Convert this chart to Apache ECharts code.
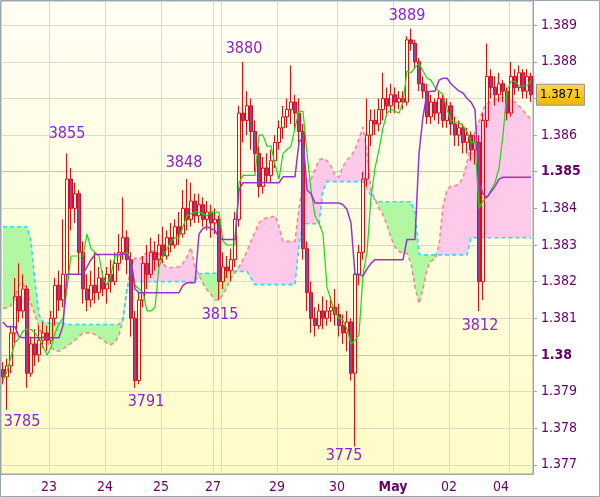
<!DOCTYPE html>
<html><head><meta charset="utf-8">
<script src="https://cdn.jsdelivr.net/npm/echarts@6/dist/echarts.min.js"></script>
<style>html,body{margin:0;padding:0;background:#fff}#c{width:600px;height:497px}</style>
</head><body><div id="c"></div>
<script>
// Hourly-ish candles: [open, close, low, high]
const candleOCLH = [
[1.3796,1.3794,1.3792,1.3798],[1.3794,1.3797,1.3785,1.3799],[1.3797,1.3806,1.3795,1.3808],[1.3806,1.3816,1.3803,1.3821],[1.3816,1.3812,1.3809,1.3825],
[1.3812,1.3818,1.3810,1.3822],[1.3818,1.3795,1.3791,1.3819],[1.3795,1.3803,1.3794,1.3805],[1.3803,1.3800,1.3797,1.3807],[1.3800,1.3804,1.3798,1.3808],
[1.3804,1.3806,1.3802,1.3809],[1.3806,1.3804,1.3801,1.3808],[1.3804,1.3810,1.3803,1.3812],[1.3810,1.3819,1.3808,1.3821],[1.3819,1.3815,1.3812,1.3823],
[1.3815,1.3822,1.3813,1.3837],[1.3822,1.3848,1.3821,1.3855],[1.3848,1.3840,1.3834,1.3851],[1.3840,1.3844,1.3836,1.3847],[1.3844,1.3828,1.3822,1.3845],
[1.3828,1.3818,1.3814,1.3831],[1.3818,1.3815,1.3812,1.3822],[1.3815,1.3819,1.3813,1.3823],[1.3819,1.3817,1.3814,1.3828],[1.3817,1.3821,1.3815,1.3824],
[1.3821,1.3818,1.3816,1.3823],[1.3818,1.3822,1.3814,1.3824],[1.3822,1.3820,1.3817,1.3826],[1.3820,1.3825,1.3819,1.3828],[1.3825,1.3828,1.3823,1.3833],
[1.3828,1.3832,1.3826,1.3843],[1.3832,1.3826,1.3822,1.3834],[1.3826,1.3810,1.3805,1.3828],[1.3810,1.3793,1.3791,1.3812],[1.3793,1.3815,1.3792,1.3817],
[1.3815,1.3825,1.3813,1.3827],[1.3825,1.3822,1.3818,1.3830],[1.3822,1.3828,1.3821,1.3832],[1.3828,1.3826,1.3823,1.3831],[1.3826,1.3830,1.3824,1.3833],
[1.3830,1.3827,1.3825,1.3835],[1.3827,1.3832,1.3826,1.3834],[1.3832,1.3830,1.3828,1.3836],[1.3830,1.3835,1.3829,1.3837],[1.3835,1.3833,1.3830,1.3839],
[1.3833,1.3840,1.3832,1.3845],[1.3840,1.3837,1.3834,1.3848],[1.3837,1.3842,1.3835,1.3847],[1.3842,1.3838,1.3836,1.3844],[1.3838,1.3841,1.3836,1.3844],
[1.3841,1.3837,1.3835,1.3843],[1.3837,1.3839,1.3834,1.3842],[1.3839,1.3836,1.3832,1.3841],[1.3836,1.3837,1.3833,1.3840],[1.3837,1.3820,1.3815,1.3838],
[1.3820,1.3824,1.3818,1.3828],[1.3824,1.3823,1.3821,1.3827],[1.3823,1.3826,1.3820,1.3829],[1.3826,1.3837,1.3824,1.3839],[1.3837,1.3866,1.3835,1.3868],
[1.3866,1.3864,1.3858,1.3880],[1.3864,1.3868,1.3860,1.3872],[1.3868,1.3861,1.3856,1.3870],[1.3861,1.3855,1.3850,1.3864],[1.3855,1.3846,1.3843,1.3857],
[1.3846,1.3851,1.3844,1.3854],[1.3851,1.3849,1.3847,1.3855],[1.3849,1.3853,1.3847,1.3856],[1.3853,1.3858,1.3851,1.3860],[1.3858,1.3862,1.3856,1.3864],
[1.3862,1.3865,1.3859,1.3868],[1.3865,1.3867,1.3862,1.3870],[1.3867,1.3869,1.3863,1.3879],[1.3869,1.3866,1.3861,1.3871],[1.3866,1.3861,1.3858,1.3870],
[1.3861,1.3829,1.3826,1.3863],[1.3829,1.3817,1.3812,1.3831],[1.3817,1.3810,1.3806,1.3820],[1.3810,1.3808,1.3805,1.3813],[1.3808,1.3812,1.3807,1.3814],
[1.3812,1.3810,1.3807,1.3816],[1.3810,1.3812,1.3808,1.3815],[1.3812,1.3813,1.3809,1.3816],[1.3813,1.3811,1.3808,1.3818],[1.3811,1.3808,1.3805,1.3814],
[1.3808,1.3806,1.3803,1.3811],[1.3806,1.3809,1.3801,1.3812],[1.3809,1.3795,1.3793,1.3810],[1.3795,1.3822,1.3775,1.3824],[1.3822,1.3828,1.3819,1.3830],
[1.3828,1.3848,1.3826,1.3850],[1.3848,1.3860,1.3846,1.3870],[1.3860,1.3864,1.3857,1.3867],[1.3864,1.3863,1.3860,1.3867],[1.3863,1.3867,1.3861,1.3870],
[1.3867,1.3870,1.3864,1.3877],[1.3870,1.3868,1.3865,1.3873],[1.3868,1.3871,1.3866,1.3874],[1.3871,1.3869,1.3866,1.3873],[1.3869,1.3870,1.3867,1.3872],
[1.3870,1.3869,1.3867,1.3872],[1.3869,1.3886,1.3868,1.3887],[1.3886,1.3885,1.3883,1.3889],[1.3885,1.3880,1.3878,1.3886],[1.3880,1.3874,1.3872,1.3881],
[1.3874,1.3872,1.3870,1.3876],[1.3872,1.3865,1.3863,1.3874],[1.3865,1.3869,1.3863,1.3871],[1.3869,1.3866,1.3864,1.3870],[1.3866,1.3870,1.3863,1.3872],
[1.3870,1.3864,1.3862,1.3871],[1.3864,1.3868,1.3862,1.3870],[1.3868,1.3863,1.3860,1.3869],[1.3863,1.3860,1.3857,1.3865],[1.3860,1.3862,1.3857,1.3864],
[1.3862,1.3858,1.3855,1.3863],[1.3858,1.3860,1.3855,1.3862],[1.3860,1.3856,1.3853,1.3861],[1.3856,1.3858,1.3852,1.3860],[1.3858,1.3820,1.3812,1.3860],
[1.3820,1.3864,1.3815,1.3866],[1.3864,1.3876,1.3862,1.3885],[1.3876,1.3873,1.3870,1.3878],[1.3873,1.3871,1.3868,1.3876],[1.3871,1.3874,1.3869,1.3877],
[1.3874,1.3872,1.3869,1.3875],[1.3872,1.3866,1.3864,1.3873],[1.3866,1.3876,1.3865,1.3880],[1.3876,1.3873,1.3871,1.3878],[1.3873,1.3877,1.3872,1.3879],
[1.3877,1.3872,1.3870,1.3878],[1.3872,1.3876,1.3870,1.3878],[1.3876,1.3871,1.3869,1.3877]
];

const tenkan = [
1.3793,1.37955,1.37995,1.38034,1.38045,1.38065,1.3807,1.3807,1.3806,1.38045,
1.38023,1.3800,1.3802,1.3806,1.38085,1.3810,1.3818,1.3827,1.3827,1.3827,
1.3827,1.3833,1.3829,1.3828,1.3827,1.3821,1.3819,1.3822,1.3827,1.3827,
1.38275,1.3828,1.3826,1.3819,1.3818,1.3817,1.3812,1.3812,1.3813,1.3824,
1.3827,1.3829,1.3831,1.3832,1.3832,1.3835,1.3838,1.38385,1.3839,1.3839,
1.38385,1.3838,1.3839,1.3839,1.3839,1.3831,1.3830,1.3830,1.3830,1.3847,
1.3849,1.3849,1.3849,1.3849,1.3860,1.3860,1.3857,1.3857,1.3852,1.3848,
1.3855,1.3856,1.3857,1.3862,1.38665,1.38665,1.3855,1.3845,1.3838,1.3836,
1.3833,1.38185,1.3815,1.38115,1.3810,1.38095,1.3807,1.3803,1.3804,1.38055,
1.3822,1.3828,1.3843,1.3851,1.3856,1.3862,1.3866,1.3867,1.38665,1.3866,
1.3869,1.38775,1.3877,1.38785,1.38795,1.38775,1.38755,1.3875,1.3873,1.3872,
1.3871,1.3867,1.3864,1.38635,1.38635,1.38625,1.3861,1.3858,1.3858,1.3840,
1.3842,1.3843,1.3845,1.3847,1.3851,1.3860,1.3872,1.38747,1.38747,1.38734,
1.38734,1.38734,1.3875
];

const kijun = [
1.3809,1.38077,1.38077,1.38077,1.3805,1.38047,1.38047,1.38047,1.38047,1.38047,
1.38047,1.38047,1.38047,1.38047,1.38047,1.3808,1.3822,1.3822,1.3822,1.3822,
1.3822,1.3824,1.3826,1.38274,1.38274,1.38274,1.38274,1.38274,1.38274,1.38274,
1.38274,1.38274,1.3826,1.3818,1.3817,1.3817,1.3817,1.3817,1.3817,1.3817,
1.3817,1.3817,1.3817,1.3817,1.3817,1.3819,1.38197,1.38197,1.38197,1.3833,
1.38345,1.3835,1.38345,1.3834,1.3832,1.38315,1.38315,1.38315,1.38315,1.3845,
1.3847,1.3847,1.3847,1.3847,1.3847,1.3847,1.3847,1.3847,1.3847,1.3847,
1.38486,1.38486,1.38486,1.38486,1.3858,1.38595,1.3845,1.3844,1.38415,1.38415,
1.38415,1.38415,1.38415,1.38415,1.38415,1.3841,1.38397,1.3836,1.3822,1.3822,
1.38215,1.38235,1.3825,1.3826,1.3826,1.3826,1.3826,1.3826,1.3826,1.3826,
1.3826,1.38315,1.38315,1.38315,1.3855,1.3865,1.38716,1.3872,1.3872,1.3875,
1.38755,1.38755,1.3874,1.3873,1.3872,1.38715,1.3870,1.3869,1.3867,1.3847,
1.3844,1.3843,1.38445,1.3846,1.3848,1.38485,1.38485,1.38485,1.38485,1.38485,
1.38485,1.38485,1.38485
];

const senkouA = [
1.38127,1.38128,1.38135,1.38156,1.3819,1.38195,1.3817,1.3814,1.3811,1.38075,
1.3805,1.38037,1.3802,1.38012,1.3801,1.38017,1.38024,1.38032,1.3804,1.3805,
1.3806,1.3806,1.3806,1.38056,1.38048,1.3804,1.38032,1.38028,1.38034,1.38055,
1.38096,1.3818,1.3824,1.38265,1.3826,1.3827,1.3828,1.38282,1.38284,1.38276,
1.3825,1.38238,1.38238,1.3824,1.3824,1.3825,1.38268,1.38293,1.3824,1.38217,
1.38195,1.38178,1.38165,1.3815,1.3815,1.38165,1.38185,1.3821,1.38225,1.3824,
1.3826,1.38283,1.3831,1.38335,1.3836,1.3837,1.38375,1.38376,1.3838,1.3835,
1.3831,1.3831,1.3831,1.3831,1.3840,1.3847,1.3848,1.3848,1.38505,1.38532,
1.38536,1.3853,1.38515,1.3849,1.38485,1.38515,1.38532,1.38543,1.3856,1.3859,
1.38622,1.3855,1.3845,1.38425,1.3840,1.38383,1.38355,1.3832,1.38295,1.38282,
1.38278,1.38278,1.3825,1.38186,1.3814,1.3818,1.38235,1.38256,1.38263,1.3830,
1.38405,1.38452,1.3846,1.38462,1.38466,1.38484,1.38525,1.38575,1.3861,1.38636,
1.3867,1.38686,1.38693,1.38697,1.3870,1.38703,1.3870,1.38697,1.3869,1.3868,
1.38668,1.38655,1.38643
];

const senkouB = [
1.3835,1.3835,1.3835,1.3835,1.3835,1.3835,1.3835,1.3831,1.3820,1.3811,
1.38089,1.38087,1.38087,1.38087,1.38087,1.38087,1.38083,1.38083,1.38083,1.38083,
1.38083,1.38083,1.38083,1.38083,1.38083,1.38083,1.38083,1.38083,1.38083,1.38083,
1.3810,1.3818,1.3820,1.3820,1.3820,1.3820,1.3820,1.3820,1.3820,1.3820,
1.3820,1.3820,1.3820,1.3820,1.3820,1.3820,1.3820,1.3820,1.3820,1.3822,
1.38223,1.38223,1.38223,1.38223,1.38223,1.38228,1.38228,1.38228,1.38228,1.38228,
1.38228,1.38228,1.3821,1.38192,1.38192,1.38192,1.38192,1.38192,1.38192,1.38192,
1.38192,1.38192,1.38192,1.38192,1.3830,1.38358,1.38358,1.38358,1.38358,1.38358,
1.3845,1.38473,1.38473,1.38473,1.38473,1.38473,1.38473,1.38473,1.38473,1.38473,
1.38473,1.38455,1.38435,1.38424,1.38418,1.38418,1.38418,1.38418,1.38418,1.38418,
1.38418,1.38418,1.38418,1.38388,1.38275,1.38273,1.38273,1.38273,1.38273,1.38273,
1.38273,1.38273,1.38273,1.38273,1.38273,1.38273,1.38273,1.3832,1.3832,1.3832,
1.3832,1.3832,1.3832,1.3832,1.3832,1.3832,1.3832,1.3832,1.3832,1.3832,
1.3832,1.3832,1.3832
];

// x-axis day labels: [candle index, text]; vertical day separators (candle index of boundary)
const dayLabels = [[12,'23'],[26,'24'],[40,'25'],[53,'27'],[69,'29'],[84,'30'],[98,'May'],[112,'02'],[125,'04']];
const dayLines = [12,26,40,53,55,69,84,98,112,127];
// y-axis ticks
const yTicks = [1.377,1.378,1.379,1.38,1.381,1.382,1.383,1.384,1.385,1.386,1.387,1.388,1.389];
const boldTicks = [1.38,1.385];
// annotated extremes (candle index + which extreme)
const extremes = [
  {i:1,type:'low'},{i:16,type:'high'},{i:33,type:'low'},{i:46,type:'high'},{i:54,type:'low'},
  {i:60,type:'high'},{i:88,type:'low'},{i:102,type:'high'},{i:119,type:'low'}
];
</script>
<script>
const FONT = '"DejaVu Sans Condensed","DejaVu Sans",sans-serif';
const annotationOffsets = [[15,12],[0,-20],[11,14],[-3,-16],[1,15],[1,-13],[-11,9],[-4,-13],[1,15]];

const categories = candleOCLH.map((_, i) => String(i));
const labelMap = new Map(dayLabels);
const lineSet = new Set(dayLines);
const cloudBase = senkouA.map((a, i) => Math.min(a, senkouB[i]));
const cloudPink = senkouA.map((a, i) => Math.max(a - senkouB[i], 0));
const cloudGreen = senkouA.map((a, i) => Math.max(senkouB[i] - a, 0));
const lastClose = candleOCLH[candleOCLH.length - 1][1];
const Y_MIN = 1.37675, Y_MAX = 1.38966;

const chart = echarts.init(document.getElementById('c'), null, {renderer: 'canvas'});
const hidden = {opacity: 0, width: 0};

chart.setOption({
  animation: false,
  backgroundColor: '#ffffff',
  grid: {
    left: 1, top: 1, right: 67, bottom: 23, show: true,
    borderColor: '#9aa6ae', borderWidth: 1,
    backgroundColor: {type: 'linear', x: 0, y: 0, x2: 0, y2: 1,
      colorStops: [{offset: 0, color: '#fefef4'}, {offset: 0.5, color: '#fefde0'}, {offset: 1, color: '#fffcc6'}]}
  },
  graphic: [{type: 'rect', silent: true, z: 100,
    shape: {x: 0.5, y: 0.5, width: 599, height: 496},
    style: {fill: null, stroke: '#9aa6ae', lineWidth: 1}}],
  xAxis: {
    type: 'category', data: categories, boundaryGap: true,
    axisLine: {show: true, lineStyle: {color: '#9aa6ae'}},
    axisTick: {show: false},
    axisLabel: {
      interval: (idx) => labelMap.has(idx),
      formatter: (v, idx) => {
        const t = labelMap.get(Number(v));
        if (t === undefined) return '';
        return t === 'May' ? '{b|' + t + '}' : '{n|' + t + '}';
      },
      margin: 6, padding: [0, 4, 0, 0],
      rich: {
        n: {color: '#660066', fontSize: 14, fontFamily: FONT},
        b: {color: '#660066', fontSize: 14, fontFamily: FONT, fontWeight: 'bold'}
      }
    },
    splitLine: {show: true, interval: (idx) => lineSet.has(idx), lineStyle: {color: '#dcdcc0', width: 1}}
  },
  yAxis: [{
    type: 'value', position: 'right', min: Y_MIN, max: Y_MAX,
    axisLine: {show: true, lineStyle: {color: '#9aa6ae'}},
    axisTick: {show: true, length: 4, lineStyle: {color: '#9aa6ae'}, customValues: yTicks},
    axisLabel: {
      customValues: yTicks, margin: 8,
      formatter: (v) => {
        const t = String(+Number(v).toFixed(3));
        const bold = boldTicks.some(b => Math.abs(b - v) < 1e-9);
        return bold ? '{b|' + t + '}' : '{n|' + t + '}';
      },
      rich: {
        n: {color: '#660066', fontSize: 14, fontFamily: FONT},
        b: {color: '#660066', fontSize: 14, fontFamily: FONT, fontWeight: 'bold'}
      }
    },
    splitLine: {show: true, lineStyle: {color: ['#dcdcc0', '#dcdcc0', '#dcdcc0', '#c6c6a0', '#dcdcc0'], width: 1}}
  }, {
    // current-price tag
    type: 'value', position: 'right', min: Y_MIN, max: Y_MAX,
    axisLine: {show: false}, axisTick: {show: false}, splitLine: {show: false},
    axisLabel: {
      customValues: [lastClose], margin: 4, showMinLabel: true, showMaxLabel: true,
      formatter: (v) => Number(v).toFixed(4),
      color: '#000', fontSize: 13, fontFamily: FONT, padding: [4, 3, 3, 3],
      borderColor: '#8c96a0', borderWidth: 1,
      backgroundColor: {type: 'linear', x: 0, y: 0, x2: 0, y2: 1,
        colorStops: [{offset: 0, color: '#ffd84a'}, {offset: 1, color: '#f0b400'}]}
    }
  }],
  series: [
    {name: 'cloudBase', type: 'line', stack: 'cloud', data: cloudBase, symbol: 'none', silent: true,
     lineStyle: hidden, z: 1},
    {name: 'cloudPink', type: 'line', stack: 'cloud', data: cloudPink, symbol: 'none', silent: true,
     lineStyle: hidden, areaStyle: {color: '#ffc9e9', opacity: 1}, z: 1},
    {name: 'cloudGreen', type: 'line', stack: 'cloud', data: cloudGreen, symbol: 'none', silent: true,
     lineStyle: hidden, areaStyle: {color: '#b2f7a2', opacity: 1}, z: 1},
    {name: 'Senkou A', type: 'line', data: senkouA, symbol: 'none', silent: true, z: 2,
     lineStyle: {color: '#f38b8b', width: 1.6, type: [4, 3]}},
    {name: 'Senkou B', type: 'line', data: senkouB, symbol: 'none', silent: true, z: 2,
     lineStyle: {color: '#2fdcf8', width: 1.6, type: [4, 3]}},
    {name: 'Price', type: 'candlestick', data: candleOCLH, barWidth: 3, z: 3,
     itemStyle: {color: 'rgba(255,255,255,0)', color0: '#8a44b0', borderColor: '#ff0000', borderColor0: '#ff0000', borderWidth: 1},
     markPoint: {
       silent: true, symbol: 'circle', symbolSize: 1, itemStyle: {color: 'rgba(0,0,0,0)'},
       data: extremes.map((e, k) => {
         const v = e.type === 'high' ? candleOCLH[e.i][3] : candleOCLH[e.i][2];
         return {coord: [e.i, v], value: v,
           label: {show: true, position: 'inside', offset: annotationOffsets[k],
             formatter: String(Math.round(v * 10000) % 10000),
             color: '#8a22d8', fontSize: 16, fontFamily: FONT}};
       })
     }},
    {name: 'Tenkan', type: 'line', data: tenkan, symbol: 'none', silent: true, z: 4,
     lineStyle: {color: '#11dd11', width: 1.2}},
    {name: 'Kijun', type: 'line', data: kijun, symbol: 'none', silent: true, z: 4,
     lineStyle: {color: '#9a33cc', width: 1.5}}
  ]
});
</script>
</body></html>
